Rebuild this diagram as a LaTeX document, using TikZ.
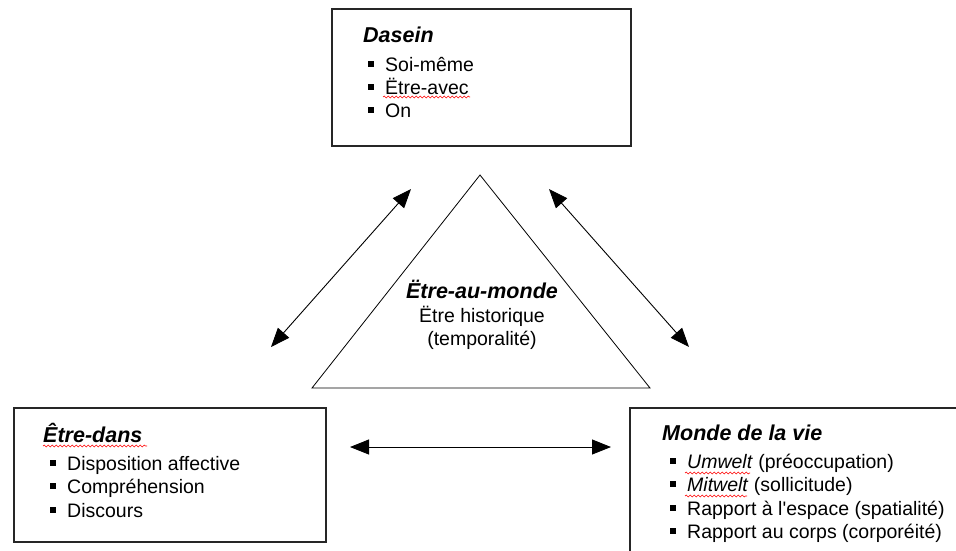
\documentclass[tikz,border=0pt]{standalone}
\usepackage{fontspec}
\setmainfont{Liberation Sans}
\usetikzlibrary{arrows.meta,decorations.pathmorphing}
\newcommand\mybul{\makebox[17pt][l]{\rule[4.5pt]{5.5pt}{5.5pt}}}
\begin{document}
\begin{tikzpicture}[x=1pt,y=-1pt,
 box/.style={draw=black!85,line width=1.8pt,inner sep=0pt,anchor=north west},
 ttl/.style={anchor=base west,inner sep=0pt,font=\fontsize{21.5}{25}\selectfont\bfseries\itshape},
 item/.style={anchor=base west,inner sep=0pt,font=\fontsize{19.5}{23}\selectfont},
 ctr/.style={anchor=base,inner sep=0pt,font=\fontsize{19.5}{23}\selectfont},
 dbl/.style={{Triangle[length=19pt,width=15pt]}-{Triangle[length=19pt,width=15pt]},line width=0.9pt},
 spell/.style={red,line width=0.6pt,decorate,decoration={snake,amplitude=0.9pt,segment length=4pt}}
]
\useasboundingbox (0,0) rectangle (956,550);
\clip (0,0) rectangle (956,550);
\fill[white] (0,0) rectangle (956,550);

% boxes
\node[box,minimum width=299pt,minimum height=137pt] (dasein) at (331,8) {};
\node[box,minimum width=312pt,minimum height=134pt] (etredans) at (13,407) {};
\node[box,minimum width=360pt,minimum height=170pt] (monde) at (629,407) {};

% Dasein box text
\node[ttl] (t1) at (363,42) {Dasein};
\node[item] (d1) at (368,71) {\mybul Soi-même};
\node[item] (d2) at (368,94) {\mybul Ëtre-avec};
\node[item] (d3) at (368,117) {\mybul On};

% Etre-dans box text
\node[ttl] (t2) at (43,442) {Être-dans};
\node[item] (e1) at (50,470) {\mybul Disposition affective};
\node[item] (e2) at (50,493) {\mybul Compréhension};
\node[item] (e3) at (50,517) {\mybul Discours};

% Monde box text
\node[ttl] (t3) at (662,440) {Monde de la vie};
\node[item] (m1) at (670,468) {\mybul \textit{Umwelt} (préoccupation)};
\node[item] (m2) at (670,491) {\mybul \textit{Mitwelt} (sollicitude)};
\node[item] (m3) at (670,515) {\mybul Rapport à l\textquotesingle espace (spatialité)};
\node[item] (m4) at (670,538) {\mybul Rapport au corps (corporéité)};

% spelling underlines
\draw[spell] (383,97) -- (470,97);
\draw[spell] (43,446) -- (147,446);
\draw[spell] (685,473) -- (750,473);
\draw[spell] (685,496) -- (747,496);

% triangle
\coordinate (apex) at (480,175);
\coordinate (bl) at (312,388);
\coordinate (br) at (650,388);
\draw[line width=0.8pt] (apex) -- (br) -- (bl) -- cycle;
\node[ctr,font=\fontsize{21.5}{25}\selectfont\bfseries\itshape] (tm) at (482,298) {Ëtre-au-monde};
\node[ctr] (th) at (482,322) {Ëtre historique};
\node[ctr] (tt) at (482,345) {(temporalité)};

% arrows
\coordinate (la) at (271,347);
\coordinate (lb) at (411,189);
\coordinate (ra) at (549,189);
\coordinate (rb) at (689,347);
\coordinate (ha) at (350,447);
\coordinate (hb) at (611,447);
\draw[dbl] (la) -- (lb);
\draw[dbl] (ra) -- (rb);
\draw[dbl] (ha) -- (hb);
\end{tikzpicture}
\end{document}
